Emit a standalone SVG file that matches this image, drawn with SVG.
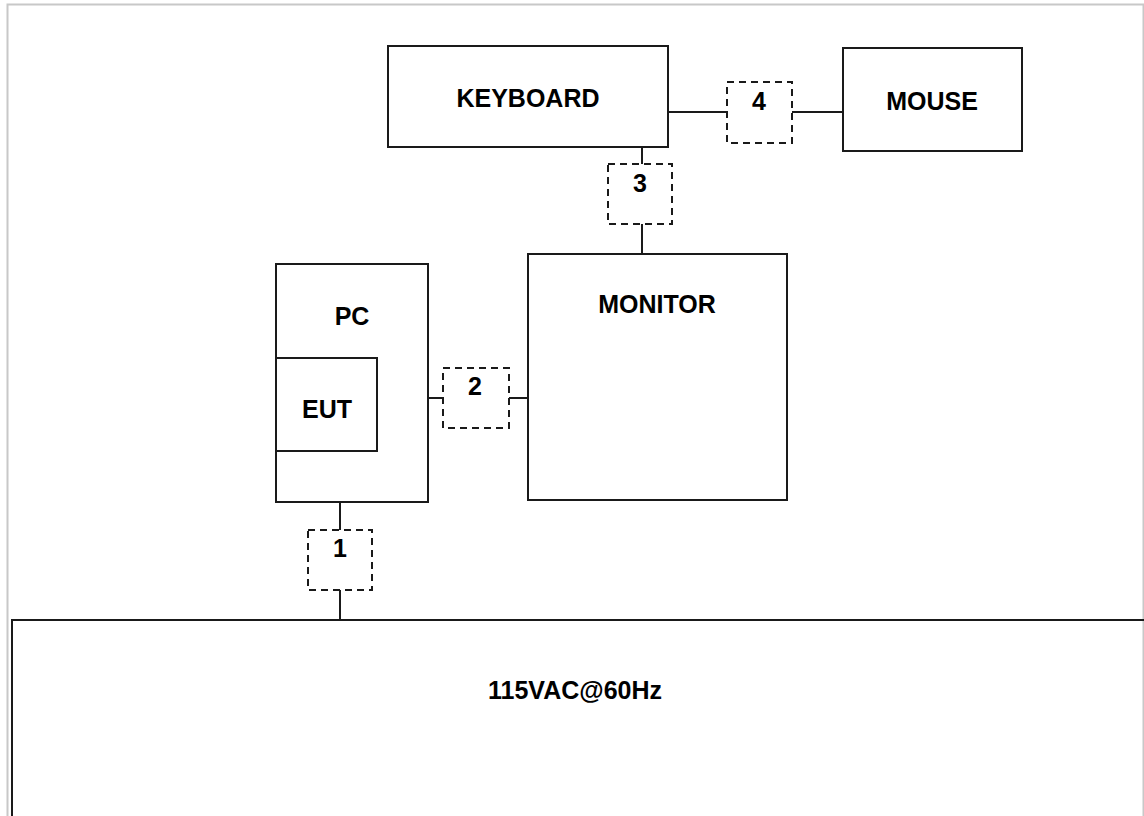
<svg xmlns="http://www.w3.org/2000/svg" width="1144" height="816" viewBox="0 0 1144 816">
<style>
.box{fill:none;stroke:#1a1a1a;stroke-width:2}
.dash{fill:none;stroke:#1a1a1a;stroke-width:2;stroke-dasharray:7 5}
.wire{fill:none;stroke:#1a1a1a;stroke-width:2}
text{font-family:"Liberation Sans",Arial,sans-serif;font-weight:bold;font-size:25px;fill:#000;text-anchor:middle}
</style>
<rect x="0" y="0" width="1144" height="816" fill="#fff"/>
<path d="M7.5,816 V4.5 H1143.5 V816" fill="none" stroke="#c8c8c8" stroke-width="2"/>
<g id="keyboard"><rect class="box" x="388" y="46" width="280" height="101"/><text x="528" y="107">KEYBOARD</text></g>
<g id="mouse"><rect class="box" x="843" y="48" width="179" height="103"/><text x="932" y="110">MOUSE</text></g>
<g id="monitor"><rect class="box" x="528" y="254" width="259" height="246"/><text x="657" y="313">MONITOR</text></g>
<g id="pc"><rect class="box" x="276" y="264" width="152" height="238"/><text x="352" y="325">PC</text></g>
<g id="eut"><rect class="box" x="276" y="358" width="101" height="93"/><text x="327" y="418">EUT</text></g>
<g id="power"><path class="box" d="M12,816 V620 H1144"/><text x="575" y="699">115VAC@60Hz</text></g>
<g id="cable1"><rect class="dash" x="308" y="530" width="64" height="60"/><text x="340" y="557">1</text></g>
<g id="cable2"><rect class="dash" x="443" y="368" width="66" height="60"/><text x="475" y="395">2</text></g>
<g id="cable3"><rect class="dash" x="608" y="164" width="64" height="60"/><text x="640" y="192">3</text></g>
<g id="cable4"><rect class="dash" x="727" y="82" width="65" height="61"/><text x="759" y="110">4</text></g>
<g id="connectors">
<path class="wire" d="M340,502 V530"/>
<path class="wire" d="M340,590 V620"/>
<path class="wire" d="M428,398 H443"/>
<path class="wire" d="M509,398 H528"/>
<path class="wire" d="M642,147 V164"/>
<path class="wire" d="M642,224 V254"/>
<path class="wire" d="M668,112 H727"/>
<path class="wire" d="M792,112 H843"/>
</g>
</svg>
